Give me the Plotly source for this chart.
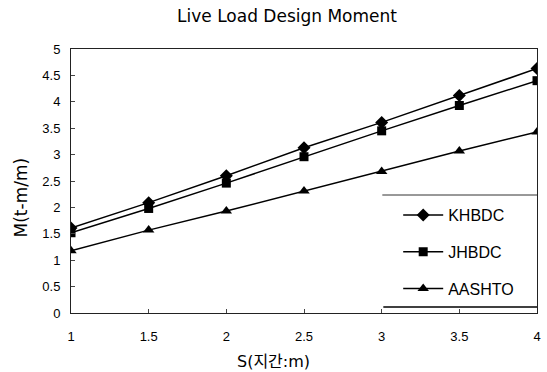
import plotly.graph_objects as go

span = [1, 1.5, 2, 2.5, 3, 3.5, 4]
khbdc = [1.61, 2.09, 2.60, 3.13, 3.61, 4.12, 4.63]
jhbdc = [1.52, 1.98, 2.46, 2.96, 3.45, 3.93, 4.40]
aashto = [1.18, 1.57, 1.93, 2.31, 2.68, 3.07, 3.43]
x_ticks = ["1", "1.5", "2", "2.5", "3", "3.5", "4"]
y_tickvals = [0, 0.5, 1, 1.5, 2, 2.5, 3, 3.5, 4, 4.5, 5]
y_ticks = ["0", "0.5", "1", "1.5", "2", "2.5", "3", "3.5", "4", "4.5", "5"]

series = [("KHBDC", khbdc, "diamond", 10), ("JHBDC", jhbdc, "square", 9), ("AASHTO", aashto, "triangle-up", 10)]

W, H = 547, 372
L, R, T, B = 71, 6, 49, 59

fig = go.Figure()
for name, vals, sym, sz in series:
    fig.add_trace(go.Scatter(
        x=span, y=vals, name=name, mode="lines+markers", legendgroup=name,
        line=dict(color="black", width=1.5),
        marker=dict(symbol=sym, size=sz, color="black"),
    ))

font_main = "Liberation Sans, Arial, sans-serif"
font_wide = "DejaVu Sans, sans-serif"
px = lambda v: (v - L) / (W - L - R)
py = lambda v: (H - B - v) / (H - T - B)

fig.update_layout(
    width=W, height=H,
    margin=dict(l=L, r=R, t=T, b=B),
    paper_bgcolor="white", plot_bgcolor="white",
    font=dict(family=font_main, color="black", size=13),
    showlegend=True,
    legend=dict(x=px(401), y=py(198), xanchor="left", yanchor="top",
                font=dict(size=16, family=font_main), bgcolor="rgba(0,0,0,0)",
                tracegroupgap=13, itemwidth=40),
    title=dict(text="Live Load Design Moment", x=287 / W, xanchor="center",
               y=1 - 16 / H, yanchor="middle", font=dict(size=17, family=font_wide)),
    xaxis=dict(range=[1, 4], tickvals=span, ticktext=x_ticks,
               showgrid=False, zeroline=False, showline=True, linecolor="#222", linewidth=1,
               mirror=True, ticks="inside", ticklen=4, tickcolor="#444", tickfont=dict(size=13),
               ticklabelstandoff=11),
    yaxis=dict(range=[0, 5], tickvals=y_tickvals, ticktext=y_ticks,
               showgrid=False, zeroline=False, showline=True, linecolor="#222", linewidth=1,
               mirror=True, ticks="inside", ticklen=4, tickcolor="#444", tickfont=dict(size=13),
               ticklabelstandoff=7),
    annotations=[
        dict(text="S(지간:m)", xref="paper", yref="paper", x=px(275), y=py(361),
             xanchor="center", yanchor="middle", showarrow=False,
             font=dict(size=16, family="DejaVu Sans, Noto Sans CJK KR, sans-serif")),
        dict(text="M(t-m/m)", xref="paper", yref="paper", x=px(21), y=py(197),
             xanchor="center", yanchor="middle", showarrow=False, textangle=-90,
             font=dict(size=17, family=font_wide)),
    ],
    shapes=[
        dict(type="line", xref="paper", yref="paper", x0=px(385), x1=1, y0=py(195), y1=py(195),
             line=dict(color="#333", width=1)),
        dict(type="line", xref="paper", yref="paper", x0=px(386), x1=1, y0=py(307), y1=py(307),
             line=dict(color="black", width=1.5)),
    ],
)

fig.write_html("out.html")
